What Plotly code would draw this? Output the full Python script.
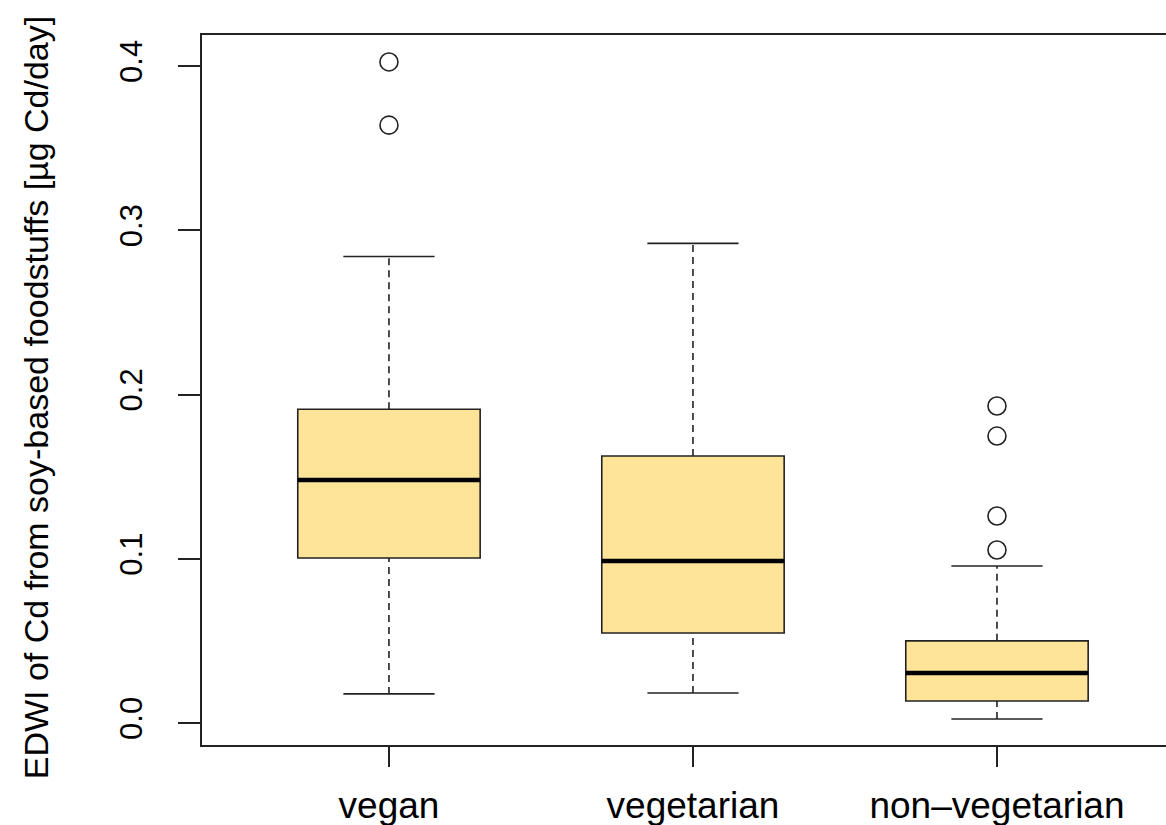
import plotly.graph_objects as go

categories = ["vegan", "vegetarian", "non–vegetarian"]
positions = [1, 2, 3]
lower_whisker = [0.0177, 0.0183, 0.0024]
q1 = [0.1005, 0.0548, 0.0134]
median = [0.148, 0.0986, 0.0304]
q3 = [0.191, 0.1626, 0.0500]
upper_whisker = [0.284, 0.292, 0.0956]
outliers = {
    1: [0.4025, 0.364],
    3: [0.193, 0.1747, 0.126, 0.1053],
}

fill = "#FEE499"
box_w = 0.6
cap_w = 0.3

fig = go.Figure()

# dashed whiskers
wx, wy = [], []
for p, lo, a, b, hi in zip(positions, lower_whisker, q1, q3, upper_whisker):
    wx += [p, p, None, p, p, None]
    wy += [lo, a, None, b, hi, None]
fig.add_trace(go.Scatter(x=wx, y=wy, mode="lines",
                         line=dict(color="#222222", width=1.6, dash="7px,5px"),
                         showlegend=False, hoverinfo="skip"))
# caps
cx, cy = [], []
for p, lo, hi in zip(positions, lower_whisker, upper_whisker):
    cx += [p - cap_w / 2, p + cap_w / 2, None, p - cap_w / 2, p + cap_w / 2, None]
    cy += [lo, lo, None, hi, hi, None]
fig.add_trace(go.Scatter(x=cx, y=cy, mode="lines",
                         line=dict(color="#222222", width=1.6),
                         showlegend=False, hoverinfo="skip"))

# boxes
for p, a, m, b in zip(positions, q1, median, q3):
    fig.add_trace(go.Box(x=[p], q1=[a], median=[m], q3=[b],
                         lowerfence=[a], upperfence=[b],
                         width=box_w, whiskerwidth=0,
                         fillcolor=fill, line=dict(color="#222222", width=1.6),
                         boxpoints=False, showlegend=False, hoverinfo="skip"))

# thick medians
mx, my = [], []
for p, m in zip(positions, median):
    mx += [p - box_w / 2, p + box_w / 2, None]
    my += [m, m, None]
fig.add_trace(go.Scatter(x=mx, y=my, mode="lines",
                         line=dict(color="black", width=4.5),
                         showlegend=False, hoverinfo="skip"))

# outliers
ox, oy = [], []
for p, vals in outliers.items():
    ox += [p] * len(vals)
    oy += vals
fig.add_trace(go.Scatter(x=ox, y=oy, mode="markers",
                         marker=dict(symbol="circle-open", size=18,
                                     color="#222222", line=dict(width=1.6)),
                         showlegend=False, hoverinfo="skip"))

fig.add_annotation(text="EDWI of Cd from soy-based foodstuffs [µg Cd/day]",
                   xref="paper", yref="paper", x=-0.172, y=0.49,
                   xanchor="center", yanchor="middle", textangle=-90,
                   showarrow=False,
                   font=dict(family="Liberation Sans, Arial", size=34, color="black"))

fig.update_layout(
    width=1166, height=825,
    margin=dict(l=202, r=0, t=35, b=80, autoexpand=False),
    paper_bgcolor="white", plot_bgcolor="white",
    font=dict(family="Liberation Sans, Arial", color="black"),
    boxmode="overlay",
)
fig.update_xaxes(range=[0.385, 3.556], tickmode="array", tickvals=positions,
                 ticktext=categories, ticks="outside", ticklen=20, tickwidth=1.5,
                 tickcolor="#222222", showgrid=False, zeroline=False,
                 showline=True, linecolor="#222222", linewidth=2, mirror=True,
                 tickfont=dict(size=37), automargin=False, ticklabelstandoff=7)
fig.update_yaxes(range=[-0.0134, 0.4189], tickmode="array",
                 tickvals=[0.0, 0.1, 0.2, 0.3, 0.4],
                 ticktext=["0.0", "0.1", "0.2", "0.3", "0.4"],
                 ticks="outside", ticklen=22, tickwidth=1.5, tickcolor="#222222",
                 tickangle=-90, showgrid=False, zeroline=False,
                 showline=True, linecolor="#222222", linewidth=2, mirror=False,
                 tickfont=dict(size=31), automargin=False, ticklabelstandoff=24)

fig.write_html("out.html", config={"displayModeBar": False},
               post_script="document.body.style.margin='0';document.body.style.overflow='hidden';")
